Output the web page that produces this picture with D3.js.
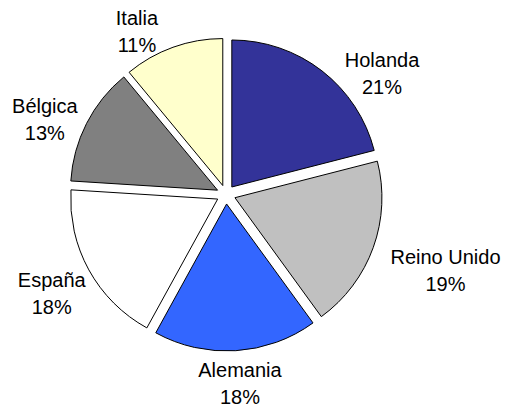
<!DOCTYPE html>
<html>
<head>
<meta charset="utf-8">
<script src="https://cdn.jsdelivr.net/npm/d3@7"></script>
<style>
  html, body { margin: 0; padding: 0; background: #fff; }
  svg { display: block; }
  .lbl { font-family: "Liberation Sans", Arial, sans-serif; font-size: 20px; fill: #000; }
</style>
</head>
<body>
<svg id="chart" width="505" height="408"></svg>
<script>
// data
const countries = ["Holanda", "Reino Unido", "Alemania", "España", "Bélgica", "Italia"];
const shares = [21, 19, 18, 18, 13, 11];
const colors = ["#333399", "#C0C0C0", "#3366FF", "#FFFFFF", "#808080", "#FFFFCC"];

// layout
const width = 505, height = 408;
const cx = 226, cy = 194.5;
const radius = 147;
const explode = 9.5;
const labelRadius = 168;
const lineH = 27, capH = 13.6;
// tweaks so labels sit where excel put them: [angle deg, extra radius]
const labelNudge = [[12, -1], [2.4, 14], [-0.2, 1], [-2.5, 2], [-3.3, -3], [-8.8, -3]];

let svg = d3.select("#chart");
let g = svg.append("g").attr("transform", `translate(${cx},${cy})`);

let pie = d3.pie().sort(null).value(d => d);
let arcs = pie(shares);

let arc = d3.arc().innerRadius(0).outerRadius(radius);

function mid(d) { return (d.startAngle + d.endAngle) / 2; }

g.selectAll("path.slice")
    .data(arcs)
    .enter().append("path")
    .attr("class", "slice")
    .attr("d", arc)
    .attr("transform", function (d) {
        let a = mid(d);
        return `translate(${explode * Math.sin(a)},${-explode * Math.cos(a)})`;
    })
    .style("fill", (d, i) => colors[i])
    .style("stroke", "#000")
    .style("stroke-width", "1px")
    .style("stroke-linejoin", "round");

// labels
let labels = g.selectAll("text.lbl")
    .data(arcs)
    .enter().append("text")
    .attr("class", "lbl")
    .attr("text-anchor", "middle");

labels.append("tspan")
    .attr("x", 0).attr("dy", 0)
    .text((d, i) => countries[i]);
labels.append("tspan")
    .attr("x", 0).attr("dy", lineH)
    .text(d => d.data + "%");

labels.attr("transform", function (d, i) {
    let w = 0;
    d3.select(this).selectAll("tspan").each(function () {
        w = Math.max(w, this.getComputedTextLength());
    });
    let hw = w / 2, hh = (lineH + capH) / 2;
    let a = mid(d) + labelNudge[i][0] * Math.PI / 180;
    let r = labelRadius + labelNudge[i][1];
    let s = Math.sin(a), c = -Math.cos(a);
    let x = (r + hw) * s;
    let y = (r + hh) * c;
    // y is the visual middle of the two lines, shift to first baseline
    let base = y - (lineH - capH) / 2;
    return `translate(${x},${base})`;
});
</script>
</body>
</html>
